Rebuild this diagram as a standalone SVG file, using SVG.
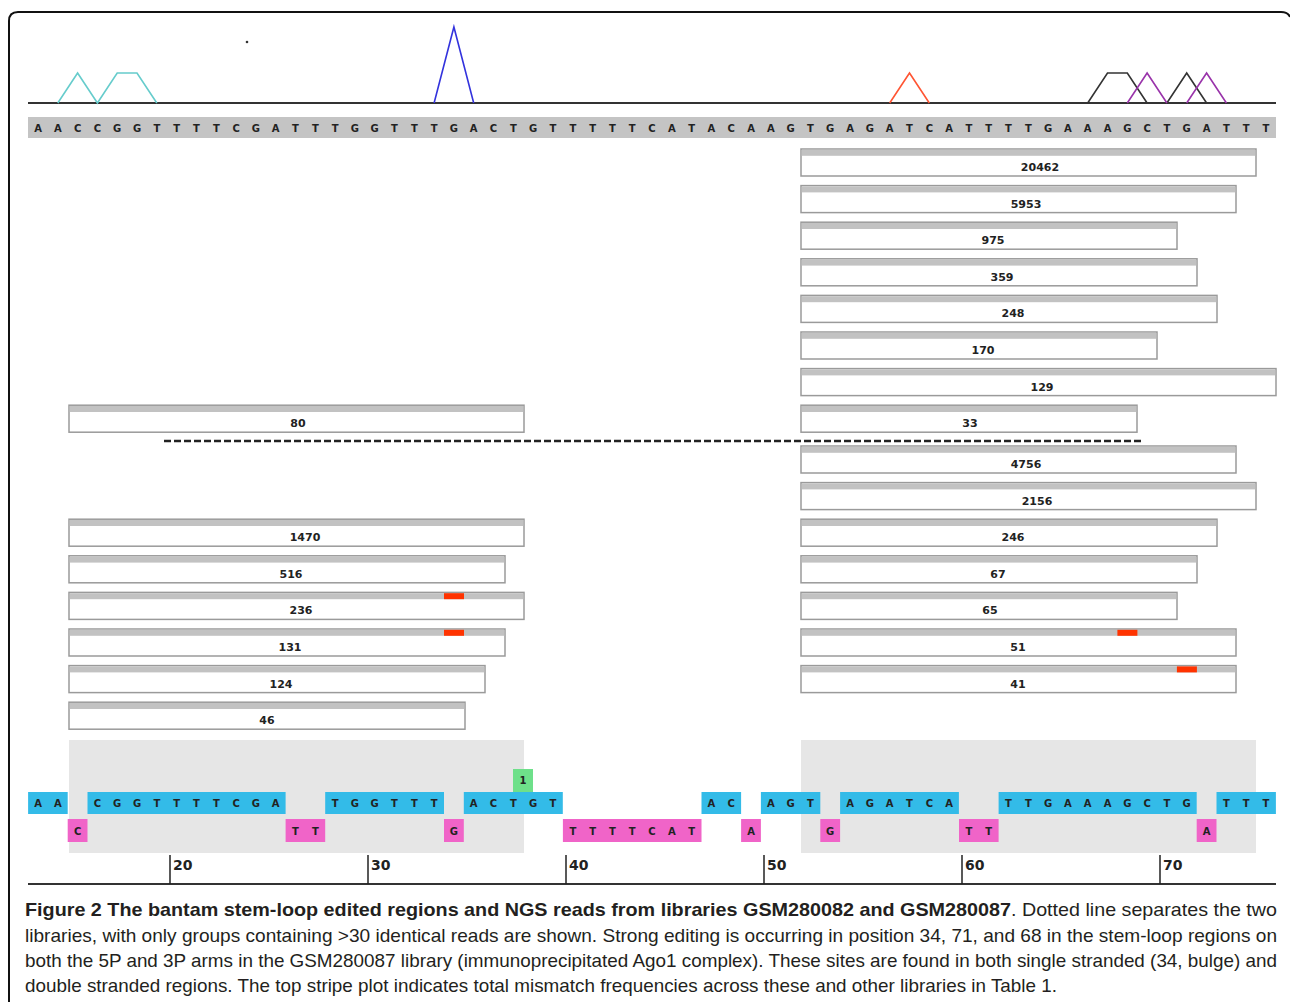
<svg xmlns="http://www.w3.org/2000/svg" width="1290" height="1002" viewBox="0 0 1290 1002">
  <style>
    .frame { fill: none; stroke: #111; stroke-width: 2; }
    .axis { stroke: #333; stroke-width: 2; fill: none; }
    .peak { fill: none; stroke-width: 1.6; stroke-linejoin: miter; }
    .seqbar { fill: #c4c4c4; }
    .nt { font-family: "DejaVu Sans", "Liberation Sans", sans-serif; font-weight: bold; font-size: 10px; fill: #222; text-anchor: middle; }
    .read { fill: #fff; stroke: #9a9a9a; stroke-width: 1.5; }
    .cap { fill: #c2c2c2; }
    .edit { fill: #ff3300; }
    .count { font-family: "DejaVu Sans", "Liberation Sans", sans-serif; font-weight: bold; font-size: 11px; fill: #222; text-anchor: middle; }
    .sep { stroke: #222; stroke-width: 2.5; stroke-dasharray: 7 3; fill: none; }
    .arm { fill: #e6e6e6; }
    .paired { fill: #33bbe8; }
    .unpaired { fill: #f064c8; }
    .hit { fill: #6ee08a; }
    .tick { stroke: #222; stroke-width: 1.5; }
    .ticklbl { font-family: "DejaVu Sans", "Liberation Sans", sans-serif; font-weight: bold; font-size: 14px; fill: #222; }
    .cap-b { font-family: "Liberation Sans", Arial, sans-serif; font-weight: bold; font-size: 19px; fill: #231f20; }
    .cap-r { font-family: "Liberation Sans", Arial, sans-serif; font-size: 19px; fill: #231f20; }
  </style>

  <!-- panel border, open at the bottom -->
  <path class="frame" d="M9,1002 V21 Q9,12 18,12 H1281 Q1288,12 1290,17"/>

  <!-- mismatch frequency stripe plot -->
  <g id="stripe-plot">
    <line class="axis" x1="28" y1="103" x2="1276" y2="103"/>
    <circle cx="247" cy="42" r="1.3" fill="#333"/>
    <path class="peak" stroke="#66cccc" d="M57.8,103 L77.6,73 L97.4,103 L117.2,73 L137,73 L156.8,103"/>
    <path class="peak" stroke="#3333dd" d="M434.1,103 L453.9,27 L473.7,103"/>
    <path class="peak" stroke="#ff5533" d="M889.7,103 L909.5,73 L929.3,103"/>
    <path class="peak" stroke="#333333" d="M1087.7,103 L1107.5,73 L1127.3,73 L1147.1,103 M1166.9,103 L1186.7,73 L1206.6,103"/>
    <path class="peak" stroke="#9933aa" d="M1127.3,103 L1147.1,73 L1166.9,103 M1186.7,103 L1206.6,73 L1226.4,103"/>
  </g>

  <!-- reference sequence -->
  <g id="reference-seq">
    <rect class="seqbar" x="28" y="117" width="1248" height="21"/>
    <text class="nt" y="132" x="38.0 57.8 77.6 97.4 117.2 137.0 156.8 176.6 196.4 216.3 236.1 255.9 275.7 295.5 315.3 335.1 354.9 374.7 394.5 414.3 434.1 453.9 473.7 493.5 513.3 533.2 553.0 572.8 592.6 612.4 632.2 652.0 671.8 691.6 711.4 731.2 751.0 770.8 790.6 810.4 830.2 850.0 869.9 889.7 909.5 929.3 949.1 968.9 988.7 1008.5 1028.3 1048.1 1067.9 1087.7 1107.5 1127.3 1147.1 1166.9 1186.7 1206.6 1226.4 1246.2 1266.0">AACCGGTTTTCGATTTGGTTTGACTGTTTTTCATACAAGTGAGATCATTTTGAAAGCTGATTT</text>
  </g>

  <!-- library GSM280082 reads -->
  <g id="read-20462"><rect class="read" x="801" y="149" width="455" height="27"/><rect class="cap" x="801.8" y="149.8" width="453.4" height="6"/><text class="count" x="1040" y="171">20462</text></g>
  <g id="read-5953"><rect class="read" x="801" y="185.6" width="435" height="27"/><rect class="cap" x="801.8" y="186.4" width="433.4" height="6"/><text class="count" x="1026" y="207.6">5953</text></g>
  <g id="read-975"><rect class="read" x="801" y="222.2" width="376" height="27"/><rect class="cap" x="801.8" y="223" width="374.4" height="6"/><text class="count" x="993" y="244.2">975</text></g>
  <g id="read-359"><rect class="read" x="801" y="258.8" width="396" height="27"/><rect class="cap" x="801.8" y="259.6" width="394.4" height="6"/><text class="count" x="1002" y="280.8">359</text></g>
  <g id="read-248"><rect class="read" x="801" y="295.4" width="416" height="27"/><rect class="cap" x="801.8" y="296.2" width="414.4" height="6"/><text class="count" x="1013" y="317.4">248</text></g>
  <g id="read-170"><rect class="read" x="801" y="332" width="356" height="27"/><rect class="cap" x="801.8" y="332.8" width="354.4" height="6"/><text class="count" x="983" y="354">170</text></g>
  <g id="read-129"><rect class="read" x="801" y="368.6" width="475" height="27"/><rect class="cap" x="801.8" y="369.4" width="473.4" height="6"/><text class="count" x="1042" y="390.6">129</text></g>
  <g id="read-33"><rect class="read" x="801" y="405.2" width="336" height="27"/><rect class="cap" x="801.8" y="406" width="334.4" height="6"/><text class="count" x="970" y="427.2">33</text></g>
  <g id="read-80"><rect class="read" x="69" y="405.2" width="455" height="27"/><rect class="cap" x="69.8" y="406" width="453.4" height="6"/><text class="count" x="298" y="427.2">80</text></g>

  <!-- library separator -->
  <g id="separator">
    <line class="sep" x1="164" y1="441" x2="1143" y2="441"/>
  </g>

  <!-- library GSM280087 reads -->
  <g id="read-4756"><rect class="read" x="801" y="446" width="435" height="27"/><rect class="cap" x="801.8" y="446.8" width="433.4" height="6"/><text class="count" x="1026" y="468">4756</text></g>
  <g id="read-2156"><rect class="read" x="801" y="482.6" width="455" height="27"/><rect class="cap" x="801.8" y="483.4" width="453.4" height="6"/><text class="count" x="1037" y="504.6">2156</text></g>
  <g id="read-246"><rect class="read" x="801" y="519.2" width="416" height="27"/><rect class="cap" x="801.8" y="520" width="414.4" height="6"/><text class="count" x="1013" y="541.2">246</text></g>
  <g id="read-1470"><rect class="read" x="69" y="519.2" width="455" height="27"/><rect class="cap" x="69.8" y="520" width="453.4" height="6"/><text class="count" x="305" y="541.2">1470</text></g>
  <g id="read-67"><rect class="read" x="801" y="555.8" width="396" height="27"/><rect class="cap" x="801.8" y="556.6" width="394.4" height="6"/><text class="count" x="998" y="577.8">67</text></g>
  <g id="read-516"><rect class="read" x="69" y="555.8" width="436" height="27"/><rect class="cap" x="69.8" y="556.6" width="434.4" height="6"/><text class="count" x="291" y="577.8">516</text></g>
  <g id="read-65"><rect class="read" x="801" y="592.4" width="376" height="27"/><rect class="cap" x="801.8" y="593.2" width="374.4" height="6"/><text class="count" x="990" y="614.4">65</text></g>
  <g id="read-236"><rect class="read" x="69" y="592.4" width="455" height="27"/><rect class="cap" x="69.8" y="593.2" width="453.4" height="6"/><rect class="edit" x="444" y="593.2" width="20" height="6"/><text class="count" x="301" y="614.4">236</text></g>
  <g id="read-51"><rect class="read" x="801" y="629" width="435" height="27"/><rect class="cap" x="801.8" y="629.8" width="433.4" height="6"/><rect class="edit" x="1117.4" y="629.8" width="20" height="6"/><text class="count" x="1018" y="651">51</text></g>
  <g id="read-131"><rect class="read" x="69" y="629" width="436" height="27"/><rect class="cap" x="69.8" y="629.8" width="434.4" height="6"/><rect class="edit" x="444" y="629.8" width="20" height="6"/><text class="count" x="290" y="651">131</text></g>
  <g id="read-41"><rect class="read" x="801" y="665.6" width="435" height="27"/><rect class="cap" x="801.8" y="666.4" width="433.4" height="6"/><rect class="edit" x="1176.9" y="666.4" width="20" height="6"/><text class="count" x="1018" y="687.6">41</text></g>
  <g id="read-124"><rect class="read" x="69" y="665.6" width="416" height="27"/><rect class="cap" x="69.8" y="666.4" width="414.4" height="6"/><text class="count" x="281" y="687.6">124</text></g>
  <g id="read-46"><rect class="read" x="69" y="702.2" width="396" height="27"/><rect class="cap" x="69.8" y="703" width="394.4" height="6"/><text class="count" x="267" y="724.2">46</text></g>

  <!-- stem-loop secondary structure track -->
  <g id="structure">
    <rect class="arm" x="69" y="740" width="455" height="113"/>
    <rect class="arm" x="801" y="740" width="455" height="113"/>

    <!-- paired bases -->
    <rect class="paired" x="28.1" y="792" width="39.6" height="22"/>
    <rect class="paired" x="87.5" y="792" width="198.1" height="22"/>
    <rect class="paired" x="325.2" y="792" width="118.8" height="22"/>
    <rect class="paired" x="463.8" y="792" width="99.0" height="22"/>
    <rect class="paired" x="701.5" y="792" width="39.6" height="22"/>
    <rect class="paired" x="760.9" y="792" width="59.4" height="22"/>
    <rect class="paired" x="840.1" y="792" width="118.8" height="22"/>
    <rect class="paired" x="998.6" y="792" width="198.1" height="22"/>
    <rect class="paired" x="1216.5" y="792" width="59.4" height="22"/>
    <text class="nt" y="807" x="38.0 57.8">AA</text>
    <text class="nt" y="807" x="97.4 117.2 137.0 156.8 176.6 196.4 216.3 236.1 255.9 275.7">CGGTTTTCGA</text>
    <text class="nt" y="807" x="335.1 354.9 374.7 394.5 414.3 434.1">TGGTTT</text>
    <text class="nt" y="807" x="473.7 493.5 513.3 533.2 553.0">ACTGT</text>
    <text class="nt" y="807" x="711.4 731.2">AC</text>
    <text class="nt" y="807" x="770.8 790.6 810.4">AGT</text>
    <text class="nt" y="807" x="850.0 869.9 889.7 909.5 929.3 949.1">AGATCA</text>
    <text class="nt" y="807" x="1008.5 1028.3 1048.1 1067.9 1087.7 1107.5 1127.3 1147.1 1166.9 1186.7">TTGAAAGCTG</text>
    <text class="nt" y="807" x="1226.4 1246.2 1266.0">TTT</text>

    <!-- unpaired bases -->
    <rect class="unpaired" x="67.7" y="819" width="19.8" height="23"/>
    <rect class="unpaired" x="285.6" y="819" width="39.6" height="23"/>
    <rect class="unpaired" x="444.0" y="819" width="19.8" height="23"/>
    <rect class="unpaired" x="562.9" y="819" width="138.6" height="23"/>
    <rect class="unpaired" x="741.1" y="819" width="19.8" height="23"/>
    <rect class="unpaired" x="820.3" y="819" width="19.8" height="23"/>
    <rect class="unpaired" x="959.0" y="819" width="39.6" height="23"/>
    <rect class="unpaired" x="1196.7" y="819" width="19.8" height="23"/>
    <text class="nt" y="835" x="77.6">C</text>
    <text class="nt" y="835" x="295.5 315.3">TT</text>
    <text class="nt" y="835" x="453.9">G</text>
    <text class="nt" y="835" x="572.8 592.6 612.4 632.2 652.0 671.8 691.6">TTTTCAT</text>
    <text class="nt" y="835" x="751.0">A</text>
    <text class="nt" y="835" x="830.2">G</text>
    <text class="nt" y="835" x="968.9 988.7">TT</text>
    <text class="nt" y="835" x="1206.6">A</text>

    <rect class="hit" x="513" y="769" width="20" height="23"/>
    <text class="nt" x="523" y="784">1</text>
  </g>

  <!-- position ruler -->
  <g id="ruler">
    <line class="axis" x1="28" y1="884" x2="1276" y2="884"/>
    <line class="tick" x1="170" y1="855" x2="170" y2="884"/>
    <line class="tick" x1="368" y1="855" x2="368" y2="884"/>
    <line class="tick" x1="566" y1="855" x2="566" y2="884"/>
    <line class="tick" x1="764" y1="855" x2="764" y2="884"/>
    <line class="tick" x1="962" y1="855" x2="962" y2="884"/>
    <line class="tick" x1="1160" y1="855" x2="1160" y2="884"/>
    <text class="ticklbl" x="173" y="870">20</text>
    <text class="ticklbl" x="371" y="870">30</text>
    <text class="ticklbl" x="569" y="870">40</text>
    <text class="ticklbl" x="767" y="870">50</text>
    <text class="ticklbl" x="965" y="870">60</text>
    <text class="ticklbl" x="1163" y="870">70</text>
  </g>

  <!-- figure caption -->
  <g id="caption">
    <text class="cap-b" x="25" y="916" textLength="986" lengthAdjust="spacingAndGlyphs">Figure 2 The bantam stem-loop edited regions and NGS reads from libraries GSM280082 and GSM280087</text>
    <text class="cap-r" x="1011" y="916" textLength="266" lengthAdjust="spacingAndGlyphs">. Dotted line separates the two</text>
    <text class="cap-r" x="25" y="942" textLength="1252" lengthAdjust="spacingAndGlyphs">libraries, with only groups containing &gt;30 identical reads are shown. Strong editing is occurring in position 34, 71, and 68 in the stem-loop regions on</text>
    <text class="cap-r" x="25" y="967" textLength="1252" lengthAdjust="spacingAndGlyphs">both the 5P and 3P arms in the GSM280087 library (immunoprecipitated Ago1 complex). These sites are found in both single stranded (34, bulge) and</text>
    <text class="cap-r" x="25" y="992" textLength="1032" lengthAdjust="spacingAndGlyphs">double stranded regions. The top stripe plot indicates total mismatch frequencies across these and other libraries in Table 1.</text>
  </g>
</svg>
